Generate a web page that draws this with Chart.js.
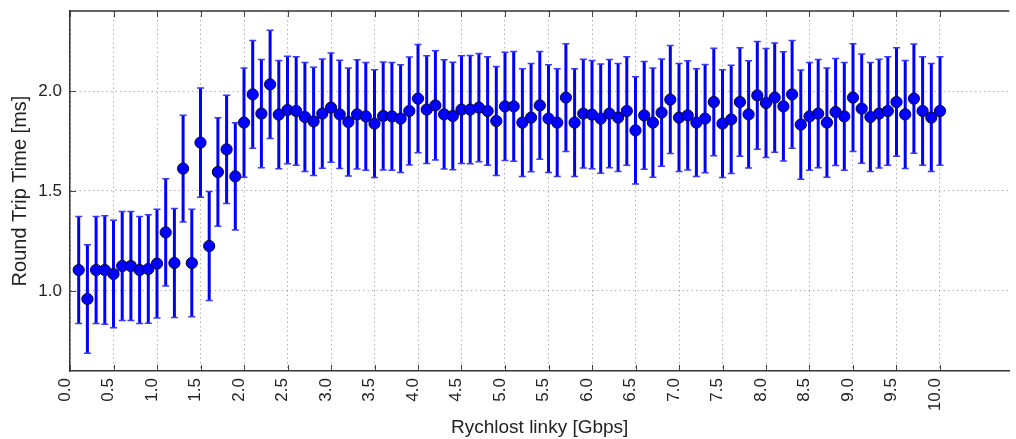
<!DOCTYPE html>
<html>
<head>
    <meta charset="UTF-8">
    <title>Round Trip Time</title>
    <script src="https://cdn.jsdelivr.net/npm/chart.js"></script>
    <style>
        html, body { margin: 0; padding: 0; overflow: hidden; background: #fff; }
        #rttChart { display: block; width: 1016px; height: 439px; }
    </style>
</head>
<body>
<canvas id="rttChart" width="1016" height="439"></canvas>

<script>
    // rychlost linky [Gbps]
    const speeds = [
        0.1, 0.2, 0.3, 0.4, 0.5, 0.6, 0.7, 0.8, 0.9, 1.0,
        1.1, 1.2, 1.3, 1.4, 1.5, 1.6, 1.7, 1.8, 1.9, 2.0,
        2.1, 2.2, 2.3, 2.4, 2.5, 2.6, 2.7, 2.8, 2.9, 3.0,
        3.1, 3.2, 3.3, 3.4, 3.5, 3.6, 3.7, 3.8, 3.9, 4.0,
        4.1, 4.2, 4.3, 4.4, 4.5, 4.6, 4.7, 4.8, 4.9, 5.0,
        5.1, 5.2, 5.3, 5.4, 5.5, 5.6, 5.7, 5.8, 5.9, 6.0,
        6.1, 6.2, 6.3, 6.4, 6.5, 6.6, 6.7, 6.8, 6.9, 7.0,
        7.1, 7.2, 7.3, 7.4, 7.5, 7.6, 7.7, 7.8, 7.9, 8.0,
        8.1, 8.2, 8.3, 8.4, 8.5, 8.6, 8.7, 8.8, 8.9, 9.0,
        9.1, 9.2, 9.3, 9.4, 9.5, 9.6, 9.7, 9.8, 9.9, 10.0
    ];

    // prumerne RTT [ms]
    const rttMean = [
        1.105, 0.960, 1.105, 1.105, 1.085, 1.125, 1.125, 1.105, 1.110, 1.137,
        1.293, 1.140, 1.612, 1.140, 1.742, 1.225, 1.595, 1.708, 1.573, 1.842,
        1.983, 1.887, 2.033, 1.882, 1.905, 1.900, 1.870, 1.848, 1.887, 1.917,
        1.883, 1.845, 1.883, 1.873, 1.837, 1.875, 1.873, 1.862, 1.900, 1.962,
        1.907, 1.928, 1.883, 1.875, 1.907, 1.907, 1.917, 1.900, 1.850, 1.923,
        1.923, 1.842, 1.867, 1.928, 1.862, 1.842, 1.967, 1.842, 1.887, 1.882,
        1.862, 1.887, 1.867, 1.900, 1.803, 1.878, 1.842, 1.892, 1.957, 1.867,
        1.878, 1.842, 1.862, 1.945, 1.837, 1.858, 1.945, 1.883, 1.978, 1.940,
        1.967, 1.923, 1.983, 1.832, 1.873, 1.887, 1.842, 1.895, 1.873, 1.967,
        1.912, 1.870, 1.887, 1.900, 1.945, 1.883, 1.962, 1.900, 1.867, 1.900
    ];

    // smerodatna odchylka [ms]
    const rttErr = [
        0.268, 0.271, 0.268, 0.271, 0.269, 0.273, 0.273, 0.268, 0.271, 0.272,
        0.268, 0.272, 0.267, 0.269, 0.273, 0.272, 0.271, 0.271, 0.268, 0.273,
        0.269, 0.271, 0.271, 0.271, 0.269, 0.271, 0.273, 0.271, 0.273, 0.273,
        0.271, 0.270, 0.273, 0.269, 0.269, 0.270, 0.269, 0.269, 0.270, 0.271,
        0.269, 0.273, 0.273, 0.269, 0.269, 0.271, 0.271, 0.271, 0.273, 0.271,
        0.274, 0.269, 0.271, 0.269, 0.269, 0.269, 0.269, 0.269, 0.272, 0.271,
        0.273, 0.271, 0.270, 0.271, 0.268, 0.269, 0.273, 0.268, 0.270, 0.270,
        0.273, 0.269, 0.271, 0.269, 0.269, 0.271, 0.271, 0.268, 0.269, 0.273,
        0.273, 0.273, 0.269, 0.273, 0.269, 0.271, 0.273, 0.268, 0.269, 0.269,
        0.273, 0.273, 0.272, 0.271, 0.271, 0.270, 0.273, 0.271, 0.270, 0.271
    ];

    const xTicks = [0.0, 0.5, 1.0, 1.5, 2.0, 2.5, 3.0, 3.5, 4.0, 4.5, 5.0,
                    5.5, 6.0, 6.5, 7.0, 7.5, 8.0, 8.5, 9.0, 9.5, 10.0];
    const yTicks = [1.0, 1.5, 2.0];

    const FONT = '"Liberation Sans", Arial, sans-serif';
    const TEXT = '#222';

    // chybove usecky (vykresleno pod body)
    const errorBars = {
        id: 'errorBars',
        beforeDatasetsDraw(chart) {
            const ctx = chart.ctx, xs = chart.scales.x, ys = chart.scales.y;
            ctx.save();
            for (let i = 0; i < speeds.length; i++) {
                const px = xs.getPixelForValue(speeds[i]);
                const top = ys.getPixelForValue(rttMean[i] + rttErr[i]);
                const bot = ys.getPixelForValue(rttMean[i] - rttErr[i]);
                ctx.strokeStyle = '#0000ff';
                ctx.lineWidth = 3;
                ctx.beginPath();
                ctx.moveTo(px, top);
                ctx.lineTo(px, bot);
                ctx.stroke();
                ctx.strokeStyle = '#3838ff';
                ctx.lineWidth = 1.5;
                ctx.beginPath();
                ctx.moveTo(px - 3.5, top); ctx.lineTo(px + 3.5, top);
                ctx.moveTo(px - 3.5, bot); ctx.lineTo(px + 3.5, bot);
                ctx.stroke();
            }
            ctx.restore();
        }
    };

    // vnitrni znacky os a horni okraj
    const innerTicks = {
        id: 'innerTicks',
        beforeDatasetsDraw(chart) {
            const ctx = chart.ctx, a = chart.chartArea;
            const xs = chart.scales.x, ys = chart.scales.y;
            ctx.save();
            ctx.strokeStyle = '#444';
            ctx.lineWidth = 1;
            ctx.beginPath();
            xTicks.forEach(v => {
                const px = Math.round(xs.getPixelForValue(v)) + 0.5;
                ctx.moveTo(px, a.bottom); ctx.lineTo(px, a.bottom - 6);
                ctx.moveTo(px, a.top); ctx.lineTo(px, a.top + 6);
            });
            yTicks.forEach(v => {
                const py = Math.round(ys.getPixelForValue(v)) + 0.5;
                ctx.moveTo(a.left, py); ctx.lineTo(a.left + 6, py);
            });
            ctx.stroke();
            ctx.lineWidth = 1.5;
            ctx.strokeStyle = '#333';
            ctx.beginPath();
            ctx.moveTo(a.left, a.top); ctx.lineTo(a.right, a.top);
            ctx.stroke();
            ctx.restore();
        }
    };

    const points = speeds.map((s, i) => ({ x: s, y: rttMean[i] }));

    const ctx = document.getElementById('rttChart').getContext('2d');
    const chart = new Chart(ctx, {
        type: 'scatter',
        data: {
            datasets: [{
                data: points,
                backgroundColor: '#0000ff',
                borderColor: '#000033',
                borderWidth: 1,
                pointRadius: 5.6,
                pointHoverRadius: 5.6
            }]
        },
        options: {
            responsive: false,
            animation: false,
            devicePixelRatio: 1,
            layout: { padding: { top: 11, right: 0, left: 0, bottom: 0 } },
            plugins: { legend: { display: false }, tooltip: { enabled: false } },
            scales: {
                x: {
                    type: 'linear',
                    min: 0,
                    max: 11,
                    afterFit: s => { s.height = 68; s.paddingLeft = 0; s.paddingRight = 0; },
                    afterBuildTicks: s => { s.ticks = xTicks.map(v => ({ value: v })); },
                    grid: { color: 'rgba(0,0,0,0.3)', lineWidth: 1, drawTicks: false },
                    border: { color: '#333', width: 1.5, dash: [1.5, 3] },
                    ticks: {
                        autoSkip: false,
                        minRotation: 90,
                        maxRotation: 90,
                        padding: 7,
                        labelOffset: -5,
                        color: TEXT,
                        font: { family: FONT, size: 17 },
                        callback: v => Number(v).toFixed(1)
                    },
                    title: {
                        display: true,
                        text: 'Rychlost linky [Gbps]',
                        color: TEXT,
                        font: { family: FONT, size: 19 },
                        padding: { top: 0, bottom: 0 }
                    }
                },
                y: {
                    type: 'linear',
                    min: 0.6,
                    max: 2.4,
                    afterFit: s => { s.width = 70; s.paddingTop = 0; s.paddingBottom = 0; },
                    afterBuildTicks: s => { s.ticks = yTicks.map(v => ({ value: v })); },
                    grid: { color: 'rgba(0,0,0,0.3)', lineWidth: 1, drawTicks: false },
                    border: { color: '#333', width: 1.5, dash: [1.5, 3] },
                    ticks: {
                        padding: 8,
                        color: TEXT,
                        font: { family: FONT, size: 17 },
                        callback: v => Number(v).toFixed(1)
                    },
                    title: {
                        display: true,
                        text: 'Round Trip Time [ms]',
                        color: TEXT,
                        font: { family: FONT, size: 20 },
                        padding: { top: 8, bottom: 0 }
                    }
                }
            }
        },
        plugins: [errorBars, innerTicks]
    });

    // osa x v originale pokracuje za pravy okraj: 10.0 Gbps lezi na x = 940 px
    const area = chart.chartArea;
    chart.options.scales.x.max = 10 * (area.right - area.left) / (940 - area.left);
    chart.update('none');
</script>
</body>
</html>
